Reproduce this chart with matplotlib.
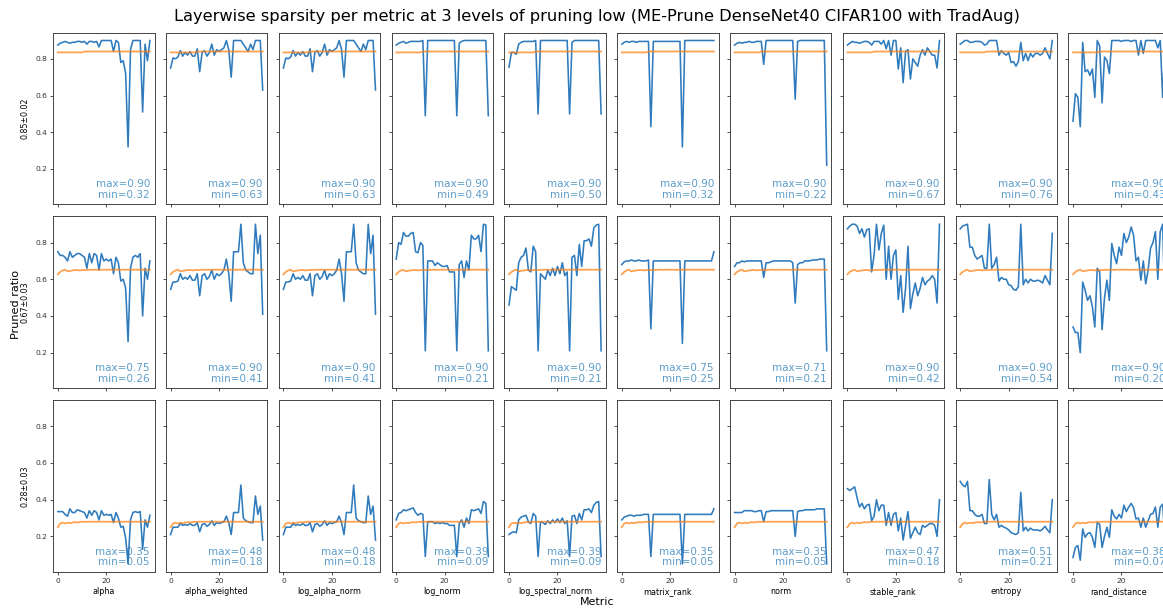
"""
Layerwise sparsity per metric, three pruning levels, DenseNet40 / CIFAR100
"""

import numpy as np
import matplotlib
matplotlib.use("Agg")
import matplotlib.pyplot as plt

metrics = ["alpha", "alpha_weighted", "log_alpha_norm", "log_norm",
           "log_spectral_norm", "matrix_rank", "norm", "stable_rank",
           "entropy", "rand_distance"]
level_labels = ["0.85±0.02", "0.67±0.03", "0.28±0.03"]

# ---- level 0.85 ----
alpha_85 = [0.875, 0.885, 0.89, 0.895, 0.89, 0.885, 0.89, 0.89, 0.895, 0.895, 0.89, 0.895, 0.88,
            0.895, 0.895, 0.89, 0.895, 0.865, 0.90, 0.90, 0.90, 0.90, 0.90, 0.84, 0.90, 0.89,
            0.78, 0.79, 0.72, 0.32, 0.85, 0.90, 0.90, 0.90, 0.90, 0.51, 0.88, 0.79, 0.90]
alpha_weighted_85 = [0.75, 0.805, 0.80, 0.81, 0.845, 0.815, 0.835, 0.82, 0.84, 0.815, 0.815, 0.855, 0.73,
                     0.835, 0.845, 0.815, 0.835, 0.88, 0.82, 0.85, 0.84, 0.85, 0.86, 0.90, 0.85, 0.70,
                     0.90, 0.90, 0.90, 0.90, 0.88, 0.86, 0.84, 0.88, 0.85, 0.90, 0.90, 0.90, 0.63]
log_alpha_norm_85 = [0.75, 0.805, 0.80, 0.81, 0.845, 0.815, 0.835, 0.82, 0.84, 0.815, 0.815, 0.855, 0.73,
                     0.835, 0.845, 0.815, 0.835, 0.88, 0.82, 0.85, 0.84, 0.85, 0.86, 0.90, 0.85, 0.70,
                     0.90, 0.90, 0.90, 0.90, 0.88, 0.86, 0.84, 0.88, 0.85, 0.90, 0.90, 0.90, 0.63]
log_norm_85 = [0.875, 0.885, 0.89, 0.895, 0.885, 0.89, 0.895, 0.895, 0.895, 0.895, 0.895, 0.90, 0.49,
               0.90, 0.90, 0.90, 0.90, 0.90, 0.90, 0.90, 0.90, 0.90, 0.90, 0.90, 0.90, 0.49,
               0.885, 0.895, 0.90, 0.90, 0.90, 0.90, 0.90, 0.90, 0.90, 0.90, 0.90, 0.90, 0.49]
log_spectral_norm_85 = [0.755, 0.835, 0.835, 0.825, 0.88, 0.89, 0.895, 0.895, 0.895, 0.895, 0.895, 0.90, 0.50,
                        0.90, 0.90, 0.90, 0.90, 0.90, 0.90, 0.90, 0.90, 0.90, 0.90, 0.90, 0.90, 0.50,
                        0.89, 0.90, 0.90, 0.90, 0.90, 0.90, 0.90, 0.90, 0.90, 0.90, 0.90, 0.90, 0.50]
matrix_rank_85 = [0.88, 0.89, 0.895, 0.89, 0.895, 0.895, 0.89, 0.895, 0.895, 0.895, 0.895, 0.895, 0.43,
                  0.895, 0.895, 0.895, 0.895, 0.895, 0.895, 0.895, 0.895, 0.895, 0.895, 0.895, 0.895, 0.32,
                  0.90, 0.90, 0.90, 0.90, 0.90, 0.90, 0.90, 0.90, 0.90, 0.90, 0.90, 0.90, 0.90]
norm_85 = [0.875, 0.885, 0.89, 0.885, 0.89, 0.89, 0.895, 0.89, 0.89, 0.895, 0.895, 0.895, 0.77,
           0.90, 0.90, 0.90, 0.90, 0.90, 0.90, 0.90, 0.90, 0.90, 0.90, 0.90, 0.90, 0.58,
           0.895, 0.90, 0.90, 0.90, 0.90, 0.90, 0.90, 0.90, 0.90, 0.90, 0.90, 0.90, 0.22]
stable_rank_85 = [0.875, 0.885, 0.895, 0.89, 0.89, 0.885, 0.89, 0.895, 0.895, 0.89, 0.875, 0.895, 0.895,
                  0.895, 0.88, 0.90, 0.855, 0.90, 0.82, 0.90, 0.90, 0.745, 0.86, 0.67, 0.84, 0.85,
                  0.69, 0.80, 0.78, 0.76, 0.82, 0.85, 0.82, 0.86, 0.84, 0.82, 0.82, 0.75, 0.90]
entropy_85 = [0.88, 0.89, 0.90, 0.90, 0.89, 0.89, 0.895, 0.895, 0.895, 0.89, 0.875, 0.88, 0.90,
              0.90, 0.90, 0.90, 0.82, 0.845, 0.83, 0.82, 0.835, 0.78, 0.785, 0.76, 0.785, 0.89,
              0.79, 0.83, 0.79, 0.83, 0.81, 0.83, 0.83, 0.82, 0.83, 0.86, 0.83, 0.80, 0.90]
rand_distance_85 = [0.46, 0.61, 0.59, 0.43, 0.89, 0.73, 0.74, 0.71, 0.745, 0.59, 0.90, 0.87, 0.56,
                    0.81, 0.79, 0.72, 0.90, 0.90, 0.90, 0.90, 0.895, 0.90, 0.90, 0.90, 0.895, 0.90,
                    0.90, 0.82, 0.90, 0.83, 0.90, 0.90, 0.90, 0.90, 0.90, 0.86, 0.90, 0.59, 0.90]
baseline_85 = [0.835, 0.835, 0.835, 0.835, 0.835, 0.835, 0.835, 0.835, 0.835, 0.835, 0.835, 0.84, 0.84,
               0.84, 0.84, 0.84, 0.84, 0.84, 0.84, 0.84, 0.84, 0.84, 0.84, 0.84, 0.84, 0.84,
               0.84, 0.84, 0.84, 0.84, 0.84, 0.84, 0.84, 0.84, 0.84, 0.84, 0.84, 0.84, 0.84]

# ---- level 0.67 ----
alpha_67 = [0.75, 0.73, 0.73, 0.72, 0.70, 0.75, 0.72, 0.73, 0.74, 0.74, 0.73, 0.72, 0.66,
            0.74, 0.69, 0.74, 0.73, 0.65, 0.74, 0.70, 0.71, 0.70, 0.71, 0.63, 0.72, 0.69,
            0.59, 0.60, 0.55, 0.26, 0.66, 0.72, 0.73, 0.72, 0.74, 0.40, 0.66, 0.60, 0.70]
alpha_weighted_67 = [0.545, 0.585, 0.585, 0.59, 0.63, 0.60, 0.61, 0.60, 0.62, 0.595, 0.595, 0.63, 0.51,
                     0.62, 0.63, 0.60, 0.615, 0.65, 0.60, 0.63, 0.62, 0.63, 0.65, 0.71, 0.63, 0.48,
                     0.75, 0.75, 0.75, 0.90, 0.69, 0.65, 0.64, 0.63, 0.63, 0.90, 0.74, 0.84, 0.41]
log_alpha_norm_67 = [0.545, 0.585, 0.585, 0.59, 0.63, 0.60, 0.61, 0.60, 0.62, 0.595, 0.595, 0.63, 0.51,
                     0.62, 0.63, 0.60, 0.615, 0.65, 0.60, 0.63, 0.62, 0.63, 0.65, 0.71, 0.63, 0.48,
                     0.75, 0.75, 0.75, 0.90, 0.69, 0.65, 0.64, 0.63, 0.63, 0.90, 0.74, 0.84, 0.41]
log_norm_67 = [0.71, 0.80, 0.79, 0.855, 0.835, 0.835, 0.85, 0.855, 0.75, 0.745, 0.80, 0.785, 0.21,
               0.70, 0.70, 0.70, 0.675, 0.69, 0.68, 0.67, 0.67, 0.675, 0.64, 0.64, 0.64, 0.21,
               0.68, 0.70, 0.61, 0.70, 0.65, 0.84, 0.82, 0.82, 0.84, 0.75, 0.90, 0.895, 0.21]
log_spectral_norm_67 = [0.46, 0.56, 0.55, 0.54, 0.69, 0.72, 0.73, 0.77, 0.65, 0.64, 0.78, 0.75, 0.21,
                        0.63, 0.615, 0.60, 0.65, 0.62, 0.66, 0.62, 0.67, 0.63, 0.69, 0.62, 0.64, 0.21,
                        0.72, 0.73, 0.62, 0.79, 0.67, 0.81, 0.81, 0.82, 0.78, 0.88, 0.895, 0.90, 0.21]
matrix_rank_67 = [0.68, 0.695, 0.70, 0.70, 0.705, 0.70, 0.70, 0.705, 0.70, 0.70, 0.70, 0.705, 0.33,
                  0.70, 0.70, 0.70, 0.70, 0.70, 0.70, 0.70, 0.70, 0.70, 0.70, 0.70, 0.70, 0.25,
                  0.70, 0.70, 0.70, 0.70, 0.70, 0.70, 0.70, 0.70, 0.70, 0.70, 0.70, 0.70, 0.75]
norm_67 = [0.67, 0.69, 0.69, 0.70, 0.695, 0.70, 0.70, 0.70, 0.70, 0.70, 0.70, 0.70, 0.61,
           0.69, 0.69, 0.695, 0.70, 0.70, 0.70, 0.70, 0.70, 0.70, 0.70, 0.70, 0.69, 0.47,
           0.68, 0.69, 0.69, 0.70, 0.70, 0.70, 0.705, 0.705, 0.705, 0.71, 0.71, 0.71, 0.21]
stable_rank_67 = [0.875, 0.89, 0.90, 0.90, 0.89, 0.85, 0.875, 0.83, 0.87, 0.875, 0.64, 0.73, 0.90,
                  0.76, 0.85, 0.895, 0.60, 0.78, 0.60, 0.73, 0.76, 0.49, 0.62, 0.42, 0.55, 0.78,
                  0.44, 0.52, 0.58, 0.51, 0.55, 0.61, 0.57, 0.59, 0.60, 0.62, 0.60, 0.47, 0.90]
entropy_67 = [0.875, 0.89, 0.895, 0.90, 0.775, 0.775, 0.73, 0.71, 0.72, 0.73, 0.66, 0.66, 0.90,
              0.66, 0.68, 0.72, 0.59, 0.61, 0.60, 0.60, 0.57, 0.565, 0.545, 0.54, 0.56, 0.90,
              0.57, 0.60, 0.58, 0.60, 0.59, 0.59, 0.595, 0.59, 0.58, 0.62, 0.595, 0.57, 0.85]
rand_distance_67 = [0.34, 0.31, 0.31, 0.20, 0.585, 0.54, 0.485, 0.51, 0.45, 0.34, 0.66, 0.64, 0.325,
                    0.50, 0.595, 0.485, 0.795, 0.73, 0.685, 0.775, 0.73, 0.85, 0.80, 0.83, 0.885, 0.84,
                    0.70, 0.72, 0.595, 0.70, 0.575, 0.65, 0.77, 0.80, 0.86, 0.60, 0.86, 0.90, 0.40]
baseline_67 = [0.627, 0.64, 0.648, 0.652, 0.643, 0.646, 0.648, 0.65, 0.651, 0.648, 0.65, 0.651, 0.65,
               0.652, 0.651, 0.652, 0.652, 0.651, 0.652, 0.652, 0.652, 0.652, 0.652, 0.651, 0.652, 0.652,
               0.652, 0.652, 0.652, 0.652, 0.652, 0.652, 0.652, 0.652, 0.652, 0.652, 0.652, 0.652, 0.652]

# ---- level 0.28 ----
alpha_28 = [0.335, 0.335, 0.335, 0.32, 0.31, 0.35, 0.33, 0.33, 0.345, 0.34, 0.335, 0.33, 0.30,
            0.34, 0.315, 0.34, 0.33, 0.29, 0.34, 0.315, 0.32, 0.315, 0.32, 0.275, 0.33, 0.30,
            0.25, 0.255, 0.19, 0.05, 0.29, 0.33, 0.335, 0.33, 0.335, 0.13, 0.29, 0.25, 0.315]
alpha_weighted_28 = [0.21, 0.25, 0.25, 0.25, 0.27, 0.26, 0.265, 0.26, 0.27, 0.26, 0.26, 0.275, 0.225,
                     0.265, 0.27, 0.255, 0.265, 0.285, 0.26, 0.275, 0.27, 0.275, 0.28, 0.31, 0.275, 0.21,
                     0.33, 0.33, 0.33, 0.48, 0.30, 0.285, 0.28, 0.275, 0.275, 0.42, 0.32, 0.365, 0.18]
log_alpha_norm_28 = [0.21, 0.25, 0.25, 0.25, 0.27, 0.26, 0.265, 0.26, 0.27, 0.26, 0.26, 0.275, 0.225,
                     0.265, 0.27, 0.255, 0.265, 0.285, 0.26, 0.275, 0.27, 0.275, 0.28, 0.31, 0.275, 0.21,
                     0.33, 0.33, 0.33, 0.48, 0.30, 0.285, 0.28, 0.275, 0.275, 0.42, 0.32, 0.365, 0.18]
log_norm_28 = [0.29, 0.325, 0.33, 0.345, 0.34, 0.345, 0.35, 0.355, 0.33, 0.315, 0.325, 0.32, 0.09,
               0.28, 0.28, 0.28, 0.27, 0.275, 0.27, 0.275, 0.27, 0.27, 0.26, 0.26, 0.26, 0.09,
               0.27, 0.29, 0.25, 0.30, 0.27, 0.345, 0.34, 0.345, 0.35, 0.325, 0.39, 0.38, 0.09]
log_spectral_norm_28 = [0.21, 0.22, 0.225, 0.22, 0.29, 0.305, 0.31, 0.315, 0.28, 0.27, 0.325, 0.31, 0.09,
                        0.28, 0.275, 0.265, 0.285, 0.27, 0.29, 0.275, 0.295, 0.275, 0.30, 0.27, 0.285, 0.09,
                        0.31, 0.315, 0.27, 0.325, 0.29, 0.345, 0.345, 0.35, 0.33, 0.37, 0.385, 0.39, 0.09]
matrix_rank_28 = [0.29, 0.305, 0.31, 0.315, 0.315, 0.31, 0.315, 0.315, 0.315, 0.32, 0.32, 0.32, 0.09,
                  0.32, 0.32, 0.32, 0.32, 0.32, 0.32, 0.32, 0.32, 0.32, 0.32, 0.32, 0.32, 0.05,
                  0.32, 0.32, 0.32, 0.32, 0.32, 0.32, 0.32, 0.32, 0.32, 0.32, 0.32, 0.32, 0.35]
norm_28 = [0.33, 0.33, 0.33, 0.33, 0.34, 0.34, 0.34, 0.34, 0.335, 0.335, 0.34, 0.34, 0.28,
           0.335, 0.335, 0.34, 0.34, 0.34, 0.34, 0.34, 0.34, 0.34, 0.34, 0.34, 0.34, 0.20,
           0.335, 0.34, 0.34, 0.345, 0.345, 0.345, 0.345, 0.345, 0.35, 0.35, 0.35, 0.35, 0.05]
stable_rank_28 = [0.46, 0.45, 0.46, 0.47, 0.41, 0.36, 0.38, 0.35, 0.37, 0.375, 0.285, 0.31, 0.40,
                  0.34, 0.37, 0.37, 0.26, 0.33, 0.26, 0.32, 0.33, 0.23, 0.30, 0.18, 0.26, 0.335,
                  0.19, 0.22, 0.25, 0.22, 0.21, 0.26, 0.25, 0.26, 0.27, 0.27, 0.26, 0.20, 0.40]
entropy_28 = [0.50, 0.48, 0.47, 0.50, 0.34, 0.34, 0.32, 0.31, 0.31, 0.32, 0.27, 0.27, 0.51,
              0.32, 0.29, 0.32, 0.25, 0.26, 0.25, 0.245, 0.235, 0.22, 0.215, 0.21, 0.22, 0.44,
              0.23, 0.25, 0.23, 0.245, 0.235, 0.235, 0.235, 0.23, 0.24, 0.255, 0.235, 0.22, 0.40]
rand_distance_28 = [0.085, 0.14, 0.15, 0.07, 0.24, 0.195, 0.215, 0.22, 0.195, 0.14, 0.275, 0.265, 0.14,
                    0.20, 0.25, 0.195, 0.345, 0.31, 0.295, 0.32, 0.30, 0.37, 0.335, 0.36, 0.38, 0.355,
                    0.295, 0.30, 0.25, 0.30, 0.25, 0.285, 0.32, 0.325, 0.36, 0.25, 0.36, 0.375, 0.17]
baseline_28 = [0.25, 0.27, 0.275, 0.27, 0.275, 0.272, 0.275, 0.278, 0.276, 0.278, 0.28, 0.279, 0.28,
               0.28, 0.28, 0.28, 0.28, 0.28, 0.28, 0.28, 0.28, 0.28, 0.28, 0.28, 0.28, 0.28,
               0.28, 0.28, 0.28, 0.28, 0.28, 0.28, 0.28, 0.28, 0.28, 0.28, 0.28, 0.28, 0.28]

rows = [
    [alpha_85, alpha_weighted_85, log_alpha_norm_85, log_norm_85, log_spectral_norm_85,
     matrix_rank_85, norm_85, stable_rank_85, entropy_85, rand_distance_85],
    [alpha_67, alpha_weighted_67, log_alpha_norm_67, log_norm_67, log_spectral_norm_67,
     matrix_rank_67, norm_67, stable_rank_67, entropy_67, rand_distance_67],
    [alpha_28, alpha_weighted_28, log_alpha_norm_28, log_norm_28, log_spectral_norm_28,
     matrix_rank_28, norm_28, stable_rank_28, entropy_28, rand_distance_28],
]
baselines = [baseline_85, baseline_67, baseline_28]

W, H = 1163, 609
fig, axes = plt.subplots(3, 10, sharex=True, sharey=True, figsize=(W / 100, H / 100), dpi=100,
                         gridspec_kw=dict(left=53.2 / W, right=1169.7 / W, top=1 - 32.7 / H,
                                          bottom=1 - 571.7 / H, wspace=0.1135, hspace=0.071))

for r in range(3):
    for c in range(10):
        ax = axes[r, c]
        vals = rows[r][c]
        layers = np.arange(len(vals))
        ax.plot(layers, vals, color="#2f7bbd", lw=1.15)
        ax.plot(layers, baselines[r], color="#ff7f0e", lw=1.3, alpha=0.72)
        # max / min box in the lower right corner
        ax.text(0.955, 0.025, f"max={max(vals):.2f}\nmin={min(vals):.2f}",
                transform=ax.transAxes, ha="right", va="bottom", ma="right",
                fontsize=7.5, color="#1f77b4", alpha=0.72, linespacing=1.1)
        for s in ax.spines.values():
            s.set_linewidth(0.7)
            s.set_color("#444444")
        ax.tick_params(labelsize=5.4, length=2.5, width=0.6, pad=2, colors="#333333")
        if r == 2:
            ax.set_xlabel(metrics[c], fontsize=5.8, labelpad=2)
    axes[r, 0].set_ylabel(level_labels[r], fontsize=5.7, labelpad=4)

axes[0, 0].set_xticks([0, 20])
axes[0, 0].set_yticks([0.2, 0.4, 0.6, 0.8])

fig.suptitle("Layerwise sparsity per metric at 3 levels of pruning low "
             "(ME-Prune DenseNet40 CIFAR100 with TradAug)",
             x=597 / W, y=1 - 9 / H, va="top", fontsize=11.7)
fig.text(597 / W, 1 - 602 / H, "Metric", ha="center", va="center", fontsize=7.9)
fig.text(16 / W, 0.5, "Pruned ratio", ha="center", va="center", rotation=90, fontsize=8.1)

fig.savefig("out.png", dpi=100)
